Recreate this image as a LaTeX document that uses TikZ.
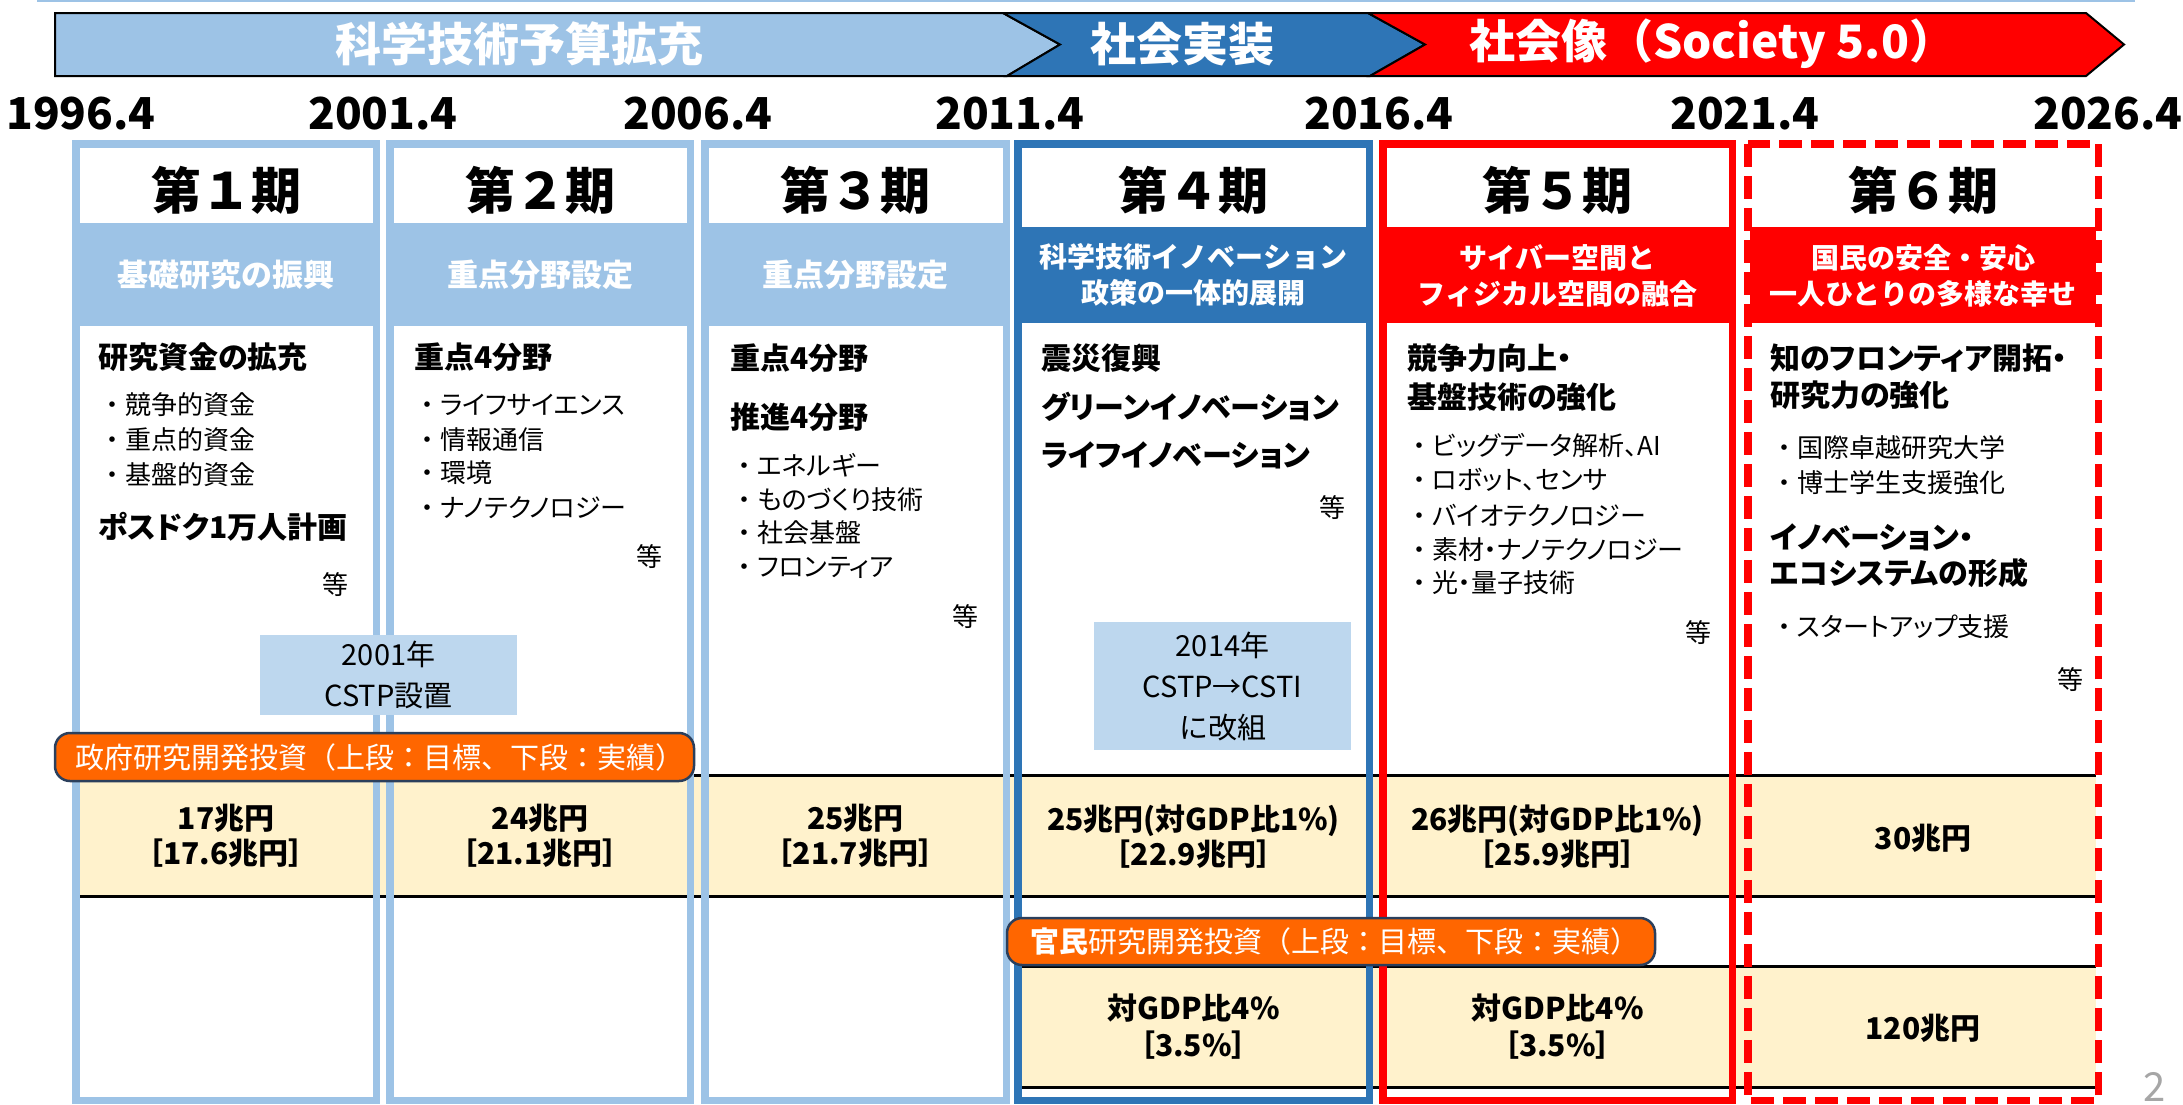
\documentclass[tikz,border=0pt]{standalone}
\usepackage{fontspec}
\usepackage{graphicx}
\setmainfont{Noto Sans CJK JP}
\newfontfamily\pk[RawFeature=+palt]{Noto Sans CJK JP}
\newcommand\itm[1]{・{\pk #1}}
\definecolor{lb}{HTML}{9DC3E6}
\definecolor{db}{HTML}{2E75B6}
\definecolor{rd}{HTML}{FF0000}
\definecolor{bx}{HTML}{BDD7EE}
\definecolor{cr}{HTML}{FFF2CC}
\definecolor{og}{HTML}{FF6600}
\definecolor{ogb}{HTML}{2B3F5C}
\definecolor{pg}{HTML}{A6A6A6}
\tikzset{
  bord/.style={line width=7.5pt},
  hdr/.style={inner sep=0, font=\fontsize{50}{56}\selectfont\bfseries},
  bt1/.style={inner sep=0, align=center, text=white, font=\fontsize{31}{36}\selectfont\bfseries},
  bt2/.style={inner sep=0, align=center, text=white, font=\fontsize{28}{36}\selectfont\bfseries},
  hl/.style={anchor=west, inner sep=0, font=\fontsize{30}{36}\selectfont\pk\bfseries},
  it/.style={anchor=west, inner sep=0, font=\fontsize{26}{30}\selectfont},
  tou/.style={inner sep=0, font=\fontsize{26}{30}\selectfont},
  fund/.style={inner sep=0, align=center, font=\fontsize{30}{35}\selectfont\bfseries},
  fund2/.style={inner sep=0, align=center, font=\fontsize{30}{37}\selectfont\bfseries},
  yr/.style={inner sep=0, font=\fontsize{44}{48}\selectfont\bfseries},
  bn/.style={inner sep=0, text=white, font=\fontsize{46}{50}\selectfont\bfseries},
  labbox/.style={draw=ogb, line width=2.5pt, fill=og, rounded corners=15pt, inner sep=0},
  lab/.style={anchor=west, inner sep=0, text=white, font=\fontsize{29}{32}\selectfont},
  cbox/.style={fill=bx, inner sep=0, align=center, font=\fontsize{29}{41}\selectfont},
  bline/.style={line width=3pt, black}
}
\begin{document}
\begin{tikzpicture}[x=1pt,y=-1pt]
\useasboundingbox (0,0) rectangle (2183,1104);
\fill[white] (0,0) rectangle (2183,1104);
% top thin line
\draw[lb, line width=2pt] (37,1) -- (2135,1);
% banner
\filldraw[fill=lb, draw=black, line width=2pt, line join=miter] (55,13) -- (1003,13) -- (1060,44.5) -- (1007,76) -- (55,76) -- cycle;
\filldraw[fill=db, draw=black, line width=2pt] (1003,13) -- (1368,13) -- (1425,44.5) -- (1370,76) -- (1007,76) -- (1060,44.5) -- cycle;
\filldraw[fill=rd, draw=black, line width=2pt] (1368,13) -- (2086,13) -- (2124,44.5) -- (2086,76) -- (1370,76) -- (1425,44.5) -- cycle;
\node[bn] (bn1) at (519,44) {科学技術予算拡充};
\node[bn] (bn2) at (1182,44) {社会実装};
\node[bn] (bn3) at (1712,44) {社会像（Society 5.0）};
% years
\node[yr] (y1) at (81,114) {1996.4};
\node[yr] (y2) at (383,114) {2001.4};
\node[yr] (y3) at (698,114) {2006.4};
\node[yr] (y4) at (1010,114) {2011.4};
\node[yr] (y5) at (1379,114) {2016.4};
\node[yr] (y6) at (1745,114) {2021.4};
\node[yr] (y7) at (2108,114) {2026.4};
% bands
\fill[lb] (72,223) rectangle (380,326);
\fill[lb] (386,223) rectangle (694,326);
\fill[lb] (701,223) rectangle (1010,326);
\fill[db] (1014,227) rectangle (1373,323);
\fill[rd] (1379,227) rectangle (1736,323);
\fill[rd] (1750,227) rectangle (2096,323);
% cream rows
\fill[cr] (79,775) rectangle (2096,896);
\fill[cr] (1021,966) rectangle (2096,1087);
\draw[bline] (79,775) -- (2096,775);
\draw[bline] (79,896) -- (2096,896);
\draw[bline] (1021,966) -- (2096,966);
\draw[bline] (1021,1087) -- (2096,1087);
% column borders
\draw[bord, lb] (75.75,143.75) rectangle (376.25,1100.25);
\draw[bord, lb] (389.75,143.75) rectangle (690.25,1100.25);
\draw[bord, lb] (704.75,143.75) rectangle (1006.25,1100.25);
\draw[bord, db] (1017.75,143.75) rectangle (1369.25,1100.25);
\draw[bord, rd] (1382.75,143.75) rectangle (1732.25,1100.25);
\draw[bord, rd, dash pattern=on 23pt off 9pt] (1747.75,143.75) rectangle (2098.25,1100.25);
% headers
\node[hdr] (h1) at (226,190) {第１期};
\node[hdr] (h2) at (540,190) {第２期};
\node[hdr] (h3) at (855.5,190) {第３期};
\node[hdr] (h4) at (1193.5,190) {第４期};
\node[hdr] (h5) at (1557.5,190) {第５期};
\node[hdr] (h6) at (1923,190) {第６期};
\node[bt1] (s1) at (226,275) {基礎研究の振興};
\node[bt1] (s2) at (540,275) {重点分野設定};
\node[bt1] (s3) at (855.5,275) {重点分野設定};
\node[bt2] (s4) at (1193.5,275) {科学技術イノベーション\\政策の一体的展開};
\node[bt2] (s5) at (1557.5,276) {サイバー空間と\\フィジカル空間の融合};
\node[bt2] (s6) at (1923,276) {国民の安全・安心\\一人ひとりの多様な幸せ};
% column 1
\node[hl] (c1h) at (98,357) {研究資金の拡充};
\node[it] (c1a) at (99,405) {\itm{競争的資金}};
\node[it] (c1b) at (99,440) {\itm{重点的資金}};
\node[it] (c1c) at (99,475) {\itm{基盤的資金}};
\node[hl] (c1p) at (98,527) {ポスドク1万人計画};
\node[tou] (c1e) at (335,585) {等};
% column 2
\node[hl] (c2h) at (414,357) {重点4分野};
\node[it] (c2a) at (414,405) {\itm{ライフサイエンス}};
\node[it] (c2b) at (414,440) {\itm{情報通信}};
\node[it] (c2c) at (414,473) {\itm{環境}};
\node[it] (c2d) at (414,508) {\itm{ナノテクノロジー}};
\node[tou] (c2e) at (649,557) {等};
% column 3
\node[hl] (c3h) at (730,358) {重点4分野};
\node[hl] (c3k) at (730,417) {推進4分野};
\node[it] (c3a) at (731,465) {\itm{エネルギー}};
\node[it] (c3b) at (731,500) {\itm{ものづくり技術}};
\node[it] (c3c) at (731,533) {\itm{社会基盤}};
\node[it] (c3d) at (731,568) {\itm{フロンティア}};
\node[tou] (c3e) at (965,617) {等};
% column 4
\node[hl] (c4a) at (1041,358) {震災復興};
\node[hl] (c4b) at (1041,407) {グリーンイノベーション};
\node[hl] (c4c) at (1041,455) {ライフイノベーション};
\node[tou] (c4e) at (1332,508) {等};
% column 5
\node[hl] (c5h) at (1407,358) {競争力向上・};
\node[hl] (c5k) at (1407,397) {基盤技術の強化};
\node[it] (c5a) at (1406,445) {\itm{ビッグデータ解析、AI}};
\node[it] (c5b) at (1406,480) {\itm{ロボット、センサ}};
\node[it] (c5c) at (1406,515) {\itm{バイオテクノロジー}};
\node[it] (c5d) at (1406,550) {\itm{素材・ナノテクノロジー}};
\node[it] (c5f) at (1406,583) {\itm{光・量子技術}};
\node[tou] (c5e) at (1698,633) {等};
% column 6
\node[hl] (c6h) at (1770,358) {知のフロンティア開拓・};
\node[hl] (c6k) at (1770,395) {研究力の強化};
\node[it] (c6a) at (1771,448) {\itm{国際卓越研究大学}};
\node[it] (c6b) at (1771,483) {\itm{博士学生支援強化}};
\node[hl] (c6m) at (1770,537) {イノベーション・};
\node[hl] (c6n) at (1770,573) {エコシステムの形成};
\node[it] (c6c) at (1771,627) {\itm{スタートアップ支援}};
\node[tou] (c6e) at (2070,680) {等};
% boxes
\node[cbox, minimum width=257pt, minimum height=80pt] (b1) at (388.5,675) {2001年\\CSTP設置};
\node[cbox, minimum width=257pt, minimum height=128pt] (b2) at (1222.5,686) {2014年\\CSTP→CSTI\\に改組};
% orange labels
\node[labbox, minimum width=639pt, minimum height=48pt] (l1) at (374.5,757) {};
\node[lab] (l1t) at (75,757) {政府研究開発投資（上段：目標、下段：実績）};
\node[labbox, minimum width=648pt, minimum height=47pt] (l2) at (1331,941.5) {};
\node[lab] (l2t) at (1030,941.5) {{\bfseries 官民}研究開発投資（上段：目標、下段：実績）};
% funding row 1
\node[fund] (f1) at (226,835.5) {17兆円\\［17.6兆円］};
\node[fund] (f2) at (540,835.5) {24兆円\\［21.1兆円］};
\node[fund] (f3) at (855.5,835.5) {25兆円\\［21.7兆円］};
\node[fund] (f4) at (1193.5,837) {25兆円(対GDP比1\%)\\［22.9兆円］};
\node[fund] (f5) at (1557.5,837) {26兆円(対GDP比1\%)\\［25.9兆円］};
\node[fund] (f6) at (1923,838) {30兆円};
% funding row 2
\node[fund2] (g4) at (1193.5,1026.5) {対GDP比4\%\\［3.5\%］};
\node[fund2] (g5) at (1557.5,1026.5) {対GDP比4\%\\［3.5\%］};
\node[fund2] (g6) at (1923,1028) {120兆円};
% page number
\node[anchor=base, inner sep=0, text=pg, font=\fontsize{40}{44}\selectfont] (pgn) at (2155,1101) {2};
\end{tikzpicture}
\end{document}
